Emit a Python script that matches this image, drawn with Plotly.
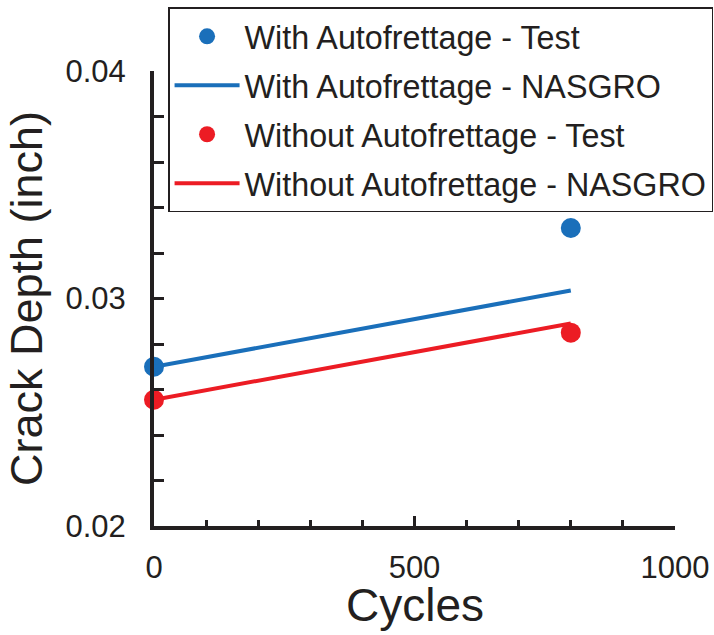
import plotly.graph_objects as go

# Data
test_cycles = [0, 800]
with_af_test = [0.0270, 0.0331]
without_af_test = [0.02555, 0.0285]

nasgro_cycles = [0, 800]
with_af_nasgro = [0.0270, 0.03035]
without_af_nasgro = [0.02555, 0.0289]

x_major_ticks = [0, 500, 1000]
y_major_ticks = [0.02, 0.03, 0.04]

BLUE = "#1a6fba"
RED = "#ec1c24"
INK = "#231f20"
FONT = "Liberation Sans, Arial, sans-serif"

fig = go.Figure()
fig.add_trace(go.Scatter(x=test_cycles, y=with_af_test, mode="markers",
                         name="With Autofrettage - Test", legendgroup="a",
                         marker=dict(color=BLUE, size=20), cliponaxis=False))
fig.add_trace(go.Scatter(x=nasgro_cycles, y=with_af_nasgro, mode="lines",
                         name="With Autofrettage - NASGRO", legendgroup="b",
                         line=dict(color=BLUE, width=4), cliponaxis=False))
fig.add_trace(go.Scatter(x=test_cycles, y=without_af_test, mode="markers",
                         name="Without Autofrettage - Test", legendgroup="c",
                         marker=dict(color=RED, size=20), cliponaxis=False))
fig.add_trace(go.Scatter(x=nasgro_cycles, y=without_af_nasgro, mode="lines",
                         name="Without Autofrettage - NASGRO", legendgroup="d",
                         line=dict(color=RED, width=4), cliponaxis=False))

fig.update_layout(
    width=714, height=635,
    margin=dict(l=154, r=39, t=71, b=109, autoexpand=False),
    paper_bgcolor="white", plot_bgcolor="white",
    font=dict(family=FONT, color=INK),
    showlegend=True,
    legend=dict(x=0.027, y=1.14, xanchor="left", yanchor="top",
                bgcolor="white", bordercolor=INK, borderwidth=1.5,
                font=dict(size=32.3, family=FONT, color=INK),
                tracegroupgap=4, traceorder="grouped",
                itemwidth=65),
    annotations=[dict(text="Cycles", xref="paper", yref="paper",
                      x=0.5, y=-0.236, xanchor="center", yanchor="bottom",
                      showarrow=False,
                      font=dict(size=46, family=FONT, color=INK))],
)

fig.update_xaxes(
    range=[0, 1000], showgrid=False, zeroline=False,
    showline=True, linewidth=4, linecolor=INK,
    tickmode="array", tickvals=x_major_ticks,
    ticks="inside", ticklen=10, tickwidth=3, tickcolor=INK,
    minor=dict(dtick=100, ticks="inside", ticklen=6, tickwidth=3, tickcolor=INK),
    tickfont=dict(size=31, family=FONT, color=INK),
    ticklabelstandoff=11, tickangle=0,
)
fig.update_yaxes(
    range=[0.02, 0.04], showgrid=False, zeroline=False,
    showline=True, linewidth=4, linecolor=INK,
    tickmode="array", tickvals=y_major_ticks, tickformat=".2f",
    ticks="inside", ticklen=10, tickwidth=3, tickcolor=INK,
    minor=dict(dtick=0.002, ticks="inside", ticklen=10, tickwidth=3, tickcolor=INK),
    tickfont=dict(size=31, family=FONT, color=INK),
    ticklabelstandoff=18,
    title=dict(text="Crack Depth (inch)", font=dict(size=45, family=FONT, color=INK), standoff=10),
)

fig.write_html("out.html")
